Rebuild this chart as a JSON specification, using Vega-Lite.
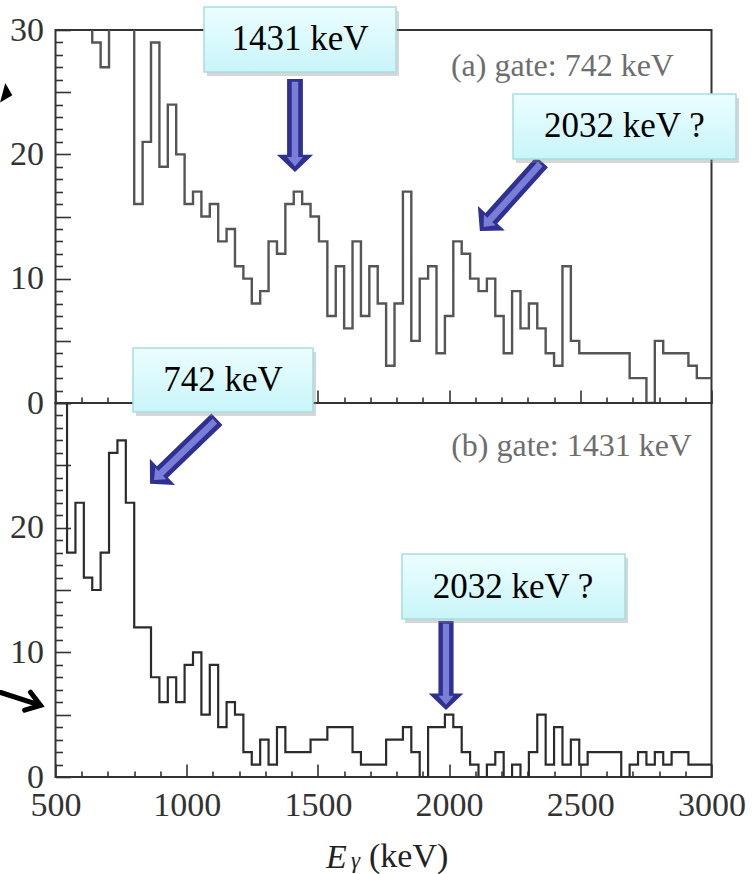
{
  "$schema": "https://vega.github.io/schema/vega-lite/v6.json",
  "background": "white",
  "padding": {"left": -10.5, "top": 5, "right": 0, "bottom": 0},
  "bounds": "flush",
  "spacing": 0,
  "config": {
    "view": {"stroke": "#333333", "strokeWidth": 2},
    "axis": {
      "domain": false, "grid": false, "ticks": true, "zindex": 1,
      "labelFont": "Liberation Serif", "labelFontSize": 34, "labelColor": "#333333",
      "tickColor": "#333333", "tickWidth": 1.6,
      "labelOverlap": false, "labelFlush": false, "labelBound": false,
      "titleFont": "Liberation Serif", "titleFontWeight": "normal", "titleColor": "#222222"
    }
  },
  "datasets": {
    "gate742": [
      {"E": 480, "counts": 34}, {"E": 512, "counts": 38}, {"E": 544, "counts": 36}, {"E": 576, "counts": 33},
      {"E": 608, "counts": 31}, {"E": 640, "counts": 29}, {"E": 672, "counts": 27}, {"E": 704, "counts": 33},
      {"E": 736, "counts": 36}, {"E": 768, "counts": 32}, {"E": 800, "counts": 16}, {"E": 832, "counts": 21},
      {"E": 864, "counts": 29}, {"E": 896, "counts": 19}, {"E": 928, "counts": 24}, {"E": 960, "counts": 20},
      {"E": 992, "counts": 16}, {"E": 1024, "counts": 17}, {"E": 1056, "counts": 15}, {"E": 1088, "counts": 16},
      {"E": 1120, "counts": 13}, {"E": 1152, "counts": 14}, {"E": 1184, "counts": 11}, {"E": 1216, "counts": 10},
      {"E": 1248, "counts": 8}, {"E": 1280, "counts": 9}, {"E": 1312, "counts": 13}, {"E": 1344, "counts": 12},
      {"E": 1376, "counts": 16}, {"E": 1408, "counts": 17}, {"E": 1440, "counts": 16}, {"E": 1472, "counts": 15},
      {"E": 1504, "counts": 13}, {"E": 1536, "counts": 7}, {"E": 1568, "counts": 11}, {"E": 1600, "counts": 6},
      {"E": 1632, "counts": 13}, {"E": 1664, "counts": 7}, {"E": 1696, "counts": 11}, {"E": 1728, "counts": 8},
      {"E": 1760, "counts": 3}, {"E": 1792, "counts": 8}, {"E": 1824, "counts": 17}, {"E": 1856, "counts": 5},
      {"E": 1888, "counts": 10}, {"E": 1920, "counts": 11}, {"E": 1952, "counts": 4}, {"E": 1984, "counts": 7},
      {"E": 2016, "counts": 13}, {"E": 2048, "counts": 12}, {"E": 2080, "counts": 10}, {"E": 2112, "counts": 9},
      {"E": 2144, "counts": 10}, {"E": 2176, "counts": 7}, {"E": 2208, "counts": 4}, {"E": 2240, "counts": 9},
      {"E": 2272, "counts": 6}, {"E": 2304, "counts": 8}, {"E": 2336, "counts": 6}, {"E": 2368, "counts": 4},
      {"E": 2400, "counts": 3}, {"E": 2432, "counts": 11}, {"E": 2464, "counts": 5}, {"E": 2496, "counts": 4},
      {"E": 2528, "counts": 4}, {"E": 2560, "counts": 4}, {"E": 2592, "counts": 4}, {"E": 2624, "counts": 4},
      {"E": 2656, "counts": 4}, {"E": 2688, "counts": 2}, {"E": 2720, "counts": 2}, {"E": 2752, "counts": 0},
      {"E": 2784, "counts": 5}, {"E": 2816, "counts": 4}, {"E": 2848, "counts": 4}, {"E": 2880, "counts": 4},
      {"E": 2912, "counts": 3}, {"E": 2944, "counts": 2}, {"E": 2976, "counts": 2}, {"E": 3008, "counts": 2}
    ],
    "gate1431": [
      {"E": 480, "counts": 40}, {"E": 512, "counts": 34}, {"E": 544, "counts": 18}, {"E": 576, "counts": 22},
      {"E": 608, "counts": 16}, {"E": 640, "counts": 15}, {"E": 672, "counts": 18}, {"E": 704, "counts": 26},
      {"E": 736, "counts": 27}, {"E": 768, "counts": 22}, {"E": 800, "counts": 12}, {"E": 832, "counts": 12},
      {"E": 864, "counts": 8}, {"E": 896, "counts": 6}, {"E": 928, "counts": 8}, {"E": 960, "counts": 6},
      {"E": 992, "counts": 9}, {"E": 1024, "counts": 10}, {"E": 1056, "counts": 5}, {"E": 1088, "counts": 9},
      {"E": 1120, "counts": 4}, {"E": 1152, "counts": 6}, {"E": 1184, "counts": 5}, {"E": 1216, "counts": 2},
      {"E": 1248, "counts": 1}, {"E": 1280, "counts": 3}, {"E": 1312, "counts": 1}, {"E": 1344, "counts": 4},
      {"E": 1376, "counts": 2}, {"E": 1408, "counts": 2}, {"E": 1440, "counts": 2}, {"E": 1472, "counts": 3},
      {"E": 1504, "counts": 3}, {"E": 1536, "counts": 4}, {"E": 1568, "counts": 4}, {"E": 1600, "counts": 4},
      {"E": 1632, "counts": 2}, {"E": 1664, "counts": 1}, {"E": 1696, "counts": 1}, {"E": 1728, "counts": 1},
      {"E": 1760, "counts": 3}, {"E": 1792, "counts": 3}, {"E": 1824, "counts": 4}, {"E": 1856, "counts": 2},
      {"E": 1888, "counts": 0}, {"E": 1920, "counts": 4}, {"E": 1952, "counts": 4}, {"E": 1984, "counts": 5},
      {"E": 2016, "counts": 4}, {"E": 2048, "counts": 2}, {"E": 2080, "counts": 1}, {"E": 2112, "counts": 0},
      {"E": 2144, "counts": 1}, {"E": 2176, "counts": 2}, {"E": 2208, "counts": 0}, {"E": 2240, "counts": 1},
      {"E": 2272, "counts": 0}, {"E": 2304, "counts": 2}, {"E": 2336, "counts": 5}, {"E": 2368, "counts": 1},
      {"E": 2400, "counts": 4}, {"E": 2432, "counts": 1}, {"E": 2464, "counts": 3}, {"E": 2496, "counts": 1},
      {"E": 2528, "counts": 2}, {"E": 2560, "counts": 2}, {"E": 2592, "counts": 2}, {"E": 2624, "counts": 2},
      {"E": 2656, "counts": 0}, {"E": 2688, "counts": 1}, {"E": 2720, "counts": 2}, {"E": 2752, "counts": 1},
      {"E": 2784, "counts": 2}, {"E": 2816, "counts": 1}, {"E": 2848, "counts": 2}, {"E": 2880, "counts": 2},
      {"E": 2912, "counts": 1}, {"E": 2944, "counts": 1}, {"E": 2976, "counts": 1}, {"E": 3008, "counts": 1}
    ]
  },
  "vconcat": [
    {
      "width": 656,
      "height": 373,
      "resolve": {"axis": {"x": "independent", "y": "independent"}},
      "layer": [
        {
          "data": {"name": "gate742"},
          "mark": {"type": "line", "interpolate": "step-after", "clip": true, "color": "#555555", "strokeWidth": 2.4},
          "encoding": {
            "x": {
              "field": "E", "type": "quantitative",
              "scale": {"domain": [500, 3000], "nice": false, "zero": false},
              "axis": {"orient": "bottom", "values": [500, 1000, 1500, 2000, 2500, 3000], "offset": -13, "tickSize": 13, "labels": false, "title": null}
            },
            "y": {
              "field": "counts", "type": "quantitative",
              "scale": {"domain": [0, 30], "nice": false},
              "axis": {
                "orient": "left", "values": [0, 5, 10, 15, 20, 25, 30], "offset": -15, "tickSize": 15,
                "title": null, "format": "d", "labelPadding": 12,
                "labelExpr": "datum.value % 10 === 0 ? datum.label : ''"
              }
            }
          }
        },
        {
          "data": {"values": [{"gate": "(a) gate: 742 keV"}]},
          "mark": {"type": "text", "align": "right", "baseline": "alphabetic", "font": "Liberation Serif", "fontSize": 32, "color": "#6e6e6e"},
          "encoding": {
            "x": {
              "datum": 2857, "type": "quantitative",
              "axis": {"orient": "bottom", "values": [600, 700, 800, 900, 1100, 1200, 1300, 1400, 1600, 1700, 1800, 1900, 2100, 2200, 2300, 2400, 2600, 2700, 2800, 2900], "offset": -6, "tickSize": 6, "labels": false, "title": null}
            },
            "y": {
              "datum": 26.3, "type": "quantitative",
              "axis": {"orient": "left", "values": [1, 2, 3, 4, 6, 7, 8, 9, 11, 12, 13, 14, 16, 17, 18, 19, 21, 22, 23, 24, 26, 27, 28, 29], "offset": -7, "tickSize": 7, "labels": false, "title": null}
            },
            "text": {"field": "gate"}
          }
        },
        {
          "data": {"values": [{"arrow": "1431 keV"}]},
          "mark": {"type": "point", "shape": "M -0.17 -1 L 0.17 -1 L 0.17 0.63 L 0.39 0.63 L 0 1 L -0.39 0.63 L -0.17 0.63 Z", "size": 8649, "filled": true, "color": "#2e3192", "opacity": 1, "angle": 0},
          "encoding": {"x": {"datum": 1412.7, "type": "quantitative", "axis": null}, "y": {"datum": 22.32, "type": "quantitative", "axis": null}}
        },
        {
          "data": {"values": [{"arrow": "1431 keV"}]},
          "mark": {"type": "point", "shape": "M -0.07 -0.94 L 0.07 -0.94 L 0.07 0.68 L 0.17 0.68 L 0 0.88 L -0.17 0.68 L -0.07 0.68 Z", "size": 8649, "filled": true, "color": "#7a7ed6", "opacity": 1, "angle": 0},
          "encoding": {"x": {"datum": 1412.7, "type": "quantitative", "axis": null}, "y": {"datum": 22.32, "type": "quantitative", "axis": null}}
        },
        {
          "data": {"values": [{"arrow": "2032 keV ?"}]},
          "mark": {"type": "point", "shape": "M -0.17 -1 L 0.17 -1 L 0.17 0.63 L 0.39 0.63 L 0 1 L -0.39 0.63 L -0.17 0.63 Z", "size": 8649, "filled": true, "color": "#2e3192", "opacity": 1, "angle": 42},
          "encoding": {"x": {"datum": 2235.8, "type": "quantitative", "axis": null}, "y": {"datum": 16.61, "type": "quantitative", "axis": null}}
        },
        {
          "data": {"values": [{"arrow": "2032 keV ?"}]},
          "mark": {"type": "point", "shape": "M -0.07 -0.94 L 0.07 -0.94 L 0.07 0.68 L 0.17 0.68 L 0 0.88 L -0.17 0.68 L -0.07 0.68 Z", "size": 8649, "filled": true, "color": "#7a7ed6", "opacity": 1, "angle": 42},
          "encoding": {"x": {"datum": 2235.8, "type": "quantitative", "axis": null}, "y": {"datum": 16.61, "type": "quantitative", "axis": null}}
        },
        {
          "data": {"values": [{"box": "1431 keV"}]},
          "mark": {"type": "rect", "color": "#8a8a8a", "opacity": 0.35, "xOffset": 3, "yOffset": 4, "x2Offset": 3, "y2Offset": 4},
          "encoding": {
            "x": {"datum": 1066, "type": "quantitative", "axis": null}, "x2": {"datum": 1797.6},
            "y": {"datum": 31.85, "type": "quantitative", "axis": null}, "y2": {"datum": 26.62}
          }
        },
        {
          "data": {"values": [{"box": "1431 keV"}]},
          "mark": {"type": "rect", "stroke": "#a6dde1", "strokeWidth": 1.5, "opacity": 1,
            "fill": {"gradient": "linear", "x1": 0, "y1": 0, "x2": 0, "y2": 1, "stops": [{"offset": 0, "color": "#ecfeff"}, {"offset": 1, "color": "#c8f5f9"}]}},
          "encoding": {
            "x": {"datum": 1066, "type": "quantitative", "axis": null}, "x2": {"datum": 1797.6},
            "y": {"datum": 31.85, "type": "quantitative", "axis": null}, "y2": {"datum": 26.62}
          }
        },
        {
          "data": {"values": [{"box": "1431 keV"}]},
          "mark": {"type": "text", "align": "center", "baseline": "middle", "font": "Liberation Serif", "fontSize": 35, "color": "#000000"},
          "encoding": {
            "x": {"datum": 1431.8, "type": "quantitative", "axis": null},
            "y": {"datum": 29.24, "type": "quantitative", "axis": null},
            "text": {"field": "box"}
          }
        },
        {
          "data": {"values": [{"box": "2032 keV ?"}]},
          "mark": {"type": "rect", "color": "#8a8a8a", "opacity": 0.35, "xOffset": 3, "yOffset": 4, "x2Offset": 3, "y2Offset": 4},
          "encoding": {
            "x": {"datum": 2243.5, "type": "quantitative", "axis": null}, "x2": {"datum": 3093.3},
            "y": {"datum": 24.85, "type": "quantitative", "axis": null}, "y2": {"datum": 19.62}
          }
        },
        {
          "data": {"values": [{"box": "2032 keV ?"}]},
          "mark": {"type": "rect", "stroke": "#a6dde1", "strokeWidth": 1.5, "opacity": 1,
            "fill": {"gradient": "linear", "x1": 0, "y1": 0, "x2": 0, "y2": 1, "stops": [{"offset": 0, "color": "#ecfeff"}, {"offset": 1, "color": "#c8f5f9"}]}},
          "encoding": {
            "x": {"datum": 2243.5, "type": "quantitative", "axis": null}, "x2": {"datum": 3093.3},
            "y": {"datum": 24.85, "type": "quantitative", "axis": null}, "y2": {"datum": 19.62}
          }
        },
        {
          "data": {"values": [{"box": "2032 keV ?"}]},
          "mark": {"type": "text", "align": "center", "baseline": "middle", "font": "Liberation Serif", "fontSize": 35, "color": "#000000"},
          "encoding": {
            "x": {"datum": 2668, "type": "quantitative", "axis": null},
            "y": {"datum": 22.24, "type": "quantitative", "axis": null},
            "text": {"field": "box"}
          }
        },
        {
          "data": {"values": [{"pointer": "left"}]},
          "mark": {"type": "point", "shape": "M -0.5 -1 L 0.5 0 L -0.5 1 Z", "size": 400, "filled": true, "color": "#000000", "opacity": 1, "angle": 15},
          "encoding": {"x": {"datum": 317, "type": "quantitative", "axis": null}, "y": {"datum": 24.85, "type": "quantitative", "axis": null}}
        }
      ]
    },
    {
      "width": 656,
      "height": 374,
      "resolve": {"axis": {"x": "independent", "y": "independent"}},
      "layer": [
        {
          "data": {"name": "gate1431"},
          "mark": {"type": "line", "interpolate": "step-after", "clip": true, "color": "#2b2b2b", "strokeWidth": 2.2},
          "encoding": {
            "x": {
              "field": "E", "type": "quantitative",
              "scale": {"domain": [500, 3000], "nice": false, "zero": false},
              "axis": {
                "orient": "bottom", "values": [500, 1000, 1500, 2000, 2500, 3000], "offset": -13, "tickSize": 13,
                "format": "d", "labelPadding": 11,
                "title": "(keV)", "titleFontSize": 34, "titleAlign": "left", "titleBaseline": "alphabetic",
                "titleX": 313, "titleY": 102
              }
            },
            "y": {
              "field": "counts", "type": "quantitative",
              "scale": {"domain": [0, 30], "nice": false},
              "axis": {
                "orient": "left", "values": [0, 5, 10, 15, 20, 25, 30], "offset": -15, "tickSize": 15,
                "title": null, "format": "d", "labelPadding": 12,
                "labelExpr": "datum.value % 10 === 0 && datum.value < 30 ? datum.label : ''"
              }
            }
          }
        },
        {
          "data": {"values": [{"gate": "(b) gate: 1431 keV"}]},
          "mark": {"type": "text", "align": "right", "baseline": "alphabetic", "font": "Liberation Serif", "fontSize": 32, "color": "#6e6e6e"},
          "encoding": {
            "x": {
              "datum": 2925.6, "type": "quantitative",
              "axis": {"orient": "bottom", "values": [600, 700, 800, 900, 1100, 1200, 1300, 1400, 1600, 1700, 1800, 1900, 2100, 2200, 2300, 2400, 2600, 2700, 2800, 2900], "offset": -6, "tickSize": 6, "labels": false, "title": null}
            },
            "y": {
              "datum": 25.75, "type": "quantitative",
              "axis": {"orient": "left", "values": [1, 2, 3, 4, 6, 7, 8, 9, 11, 12, 13, 14, 16, 17, 18, 19, 21, 22, 23, 24, 26, 27, 28, 29], "offset": -7, "tickSize": 7, "labels": false, "title": null}
            },
            "text": {"field": "gate"}
          }
        },
        {
          "data": {"values": [{"arrow": "742 keV"}]},
          "mark": {"type": "point", "shape": "M -0.17 -1 L 0.17 -1 L 0.17 0.63 L 0.39 0.63 L 0 1 L -0.39 0.63 L -0.17 0.63 Z", "size": 8649, "filled": true, "color": "#2e3192", "opacity": 1, "angle": 46},
          "encoding": {"x": {"datum": 987.8, "type": "quantitative", "axis": null}, "y": {"datum": 26.11, "type": "quantitative", "axis": null}}
        },
        {
          "data": {"values": [{"arrow": "742 keV"}]},
          "mark": {"type": "point", "shape": "M -0.07 -0.94 L 0.07 -0.94 L 0.07 0.68 L 0.17 0.68 L 0 0.88 L -0.17 0.68 L -0.07 0.68 Z", "size": 8649, "filled": true, "color": "#7a7ed6", "opacity": 1, "angle": 46},
          "encoding": {"x": {"datum": 987.8, "type": "quantitative", "axis": null}, "y": {"datum": 26.11, "type": "quantitative", "axis": null}}
        },
        {
          "data": {"values": [{"arrow": "2032 keV ?"}]},
          "mark": {"type": "point", "shape": "M -0.17 -1 L 0.17 -1 L 0.17 0.63 L 0.39 0.63 L 0 1 L -0.39 0.63 L -0.17 0.63 Z", "size": 7921, "filled": true, "color": "#2e3192", "opacity": 1, "angle": 0},
          "encoding": {"x": {"datum": 1988.2, "type": "quantitative", "axis": null}, "y": {"datum": 8.94, "type": "quantitative", "axis": null}}
        },
        {
          "data": {"values": [{"arrow": "2032 keV ?"}]},
          "mark": {"type": "point", "shape": "M -0.07 -0.94 L 0.07 -0.94 L 0.07 0.68 L 0.17 0.68 L 0 0.88 L -0.17 0.68 L -0.07 0.68 Z", "size": 7921, "filled": true, "color": "#7a7ed6", "opacity": 1, "angle": 0},
          "encoding": {"x": {"datum": 1988.2, "type": "quantitative", "axis": null}, "y": {"datum": 8.94, "type": "quantitative", "axis": null}}
        },
        {
          "data": {"values": [{"box": "742 keV"}]},
          "mark": {"type": "rect", "color": "#8a8a8a", "opacity": 0.35, "xOffset": 3, "yOffset": 4, "x2Offset": 3, "y2Offset": 4},
          "encoding": {
            "x": {"datum": 795.4, "type": "quantitative", "axis": null}, "x2": {"datum": 1481.3},
            "y": {"datum": 34.41, "type": "quantitative", "axis": null}, "y2": {"datum": 29.28}
          }
        },
        {
          "data": {"values": [{"box": "742 keV"}]},
          "mark": {"type": "rect", "stroke": "#a6dde1", "strokeWidth": 1.5, "opacity": 1,
            "fill": {"gradient": "linear", "x1": 0, "y1": 0, "x2": 0, "y2": 1, "stops": [{"offset": 0, "color": "#ecfeff"}, {"offset": 1, "color": "#c8f5f9"}]}},
          "encoding": {
            "x": {"datum": 795.4, "type": "quantitative",
              "axis": {"orient": "bottom", "ticks": false, "labels": false, "domain": false, "title": "E", "titleFontStyle": "italic", "titleFontSize": 34, "titleAlign": "left", "titleBaseline": "alphabetic", "titleX": 270, "titleY": 90}},
            "x2": {"datum": 1481.3},
            "y": {"datum": 34.41, "type": "quantitative", "axis": null}, "y2": {"datum": 29.28}
          }
        },
        {
          "data": {"values": [{"box": "742 keV"}]},
          "mark": {"type": "text", "align": "center", "baseline": "middle", "font": "Liberation Serif", "fontSize": 35, "color": "#000000"},
          "encoding": {
            "x": {"datum": 1138.3, "type": "quantitative", "axis": null},
            "y": {"datum": 31.84, "type": "quantitative", "axis": null},
            "text": {"field": "box"}
          }
        },
        {
          "data": {"values": [{"box": "2032 keV ?"}]},
          "mark": {"type": "rect", "color": "#8a8a8a", "opacity": 0.35, "xOffset": 3, "yOffset": 4, "x2Offset": 3, "y2Offset": 4},
          "encoding": {
            "x": {"datum": 1820.5, "type": "quantitative", "axis": null}, "x2": {"datum": 2670.3},
            "y": {"datum": 17.89, "type": "quantitative", "axis": null}, "y2": {"datum": 12.67}
          }
        },
        {
          "data": {"values": [{"box": "2032 keV ?"}]},
          "mark": {"type": "rect", "stroke": "#a6dde1", "strokeWidth": 1.5, "opacity": 1,
            "fill": {"gradient": "linear", "x1": 0, "y1": 0, "x2": 0, "y2": 1, "stops": [{"offset": 0, "color": "#ecfeff"}, {"offset": 1, "color": "#c8f5f9"}]}},
          "encoding": {
            "x": {"datum": 1820.5, "type": "quantitative",
              "axis": {"orient": "bottom", "ticks": false, "labels": false, "domain": false, "title": "γ", "titleFontStyle": "italic", "titleFontSize": 23, "titleAlign": "left", "titleBaseline": "alphabetic", "titleX": 295, "titleY": 90}},
            "x2": {"datum": 2670.3},
            "y": {"datum": 17.89, "type": "quantitative", "axis": null}, "y2": {"datum": 12.67}
          }
        },
        {
          "data": {"values": [{"box": "2032 keV ?"}]},
          "mark": {"type": "text", "align": "center", "baseline": "middle", "font": "Liberation Serif", "fontSize": 35, "color": "#000000"},
          "encoding": {
            "x": {"datum": 2243.5, "type": "quantitative", "axis": null},
            "y": {"datum": 15.28, "type": "quantitative", "axis": null},
            "text": {"field": "box"}
          }
        },
        {
          "data": {"values": [{"pointer": "left"}]},
          "mark": {"type": "point", "shape": "M -1 0 L 1 0 M 0.35 -0.45 L 1 0 L 0.35 0.45", "size": 1764, "filled": false, "color": "#000000", "strokeWidth": 5, "strokeCap": "round", "opacity": 1, "angle": 18},
          "encoding": {"x": {"datum": 367, "type": "quantitative", "axis": null}, "y": {"datum": 6.26, "type": "quantitative", "axis": null}}
        }
      ]
    }
  ]
}
